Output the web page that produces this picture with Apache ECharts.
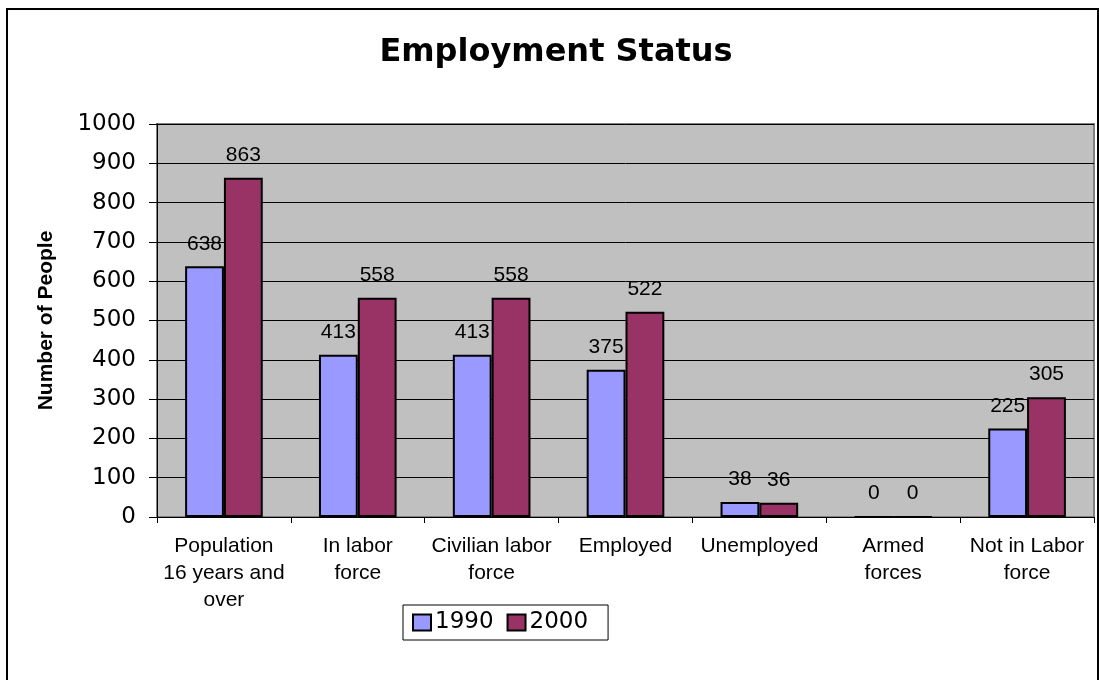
<!DOCTYPE html>
<html>
<head>
<meta charset="utf-8">
<title>Employment Status</title>
<script src="https://cdn.jsdelivr.net/npm/echarts@6/dist/echarts.min.js"></script>
<style>
  html, body { margin: 0; padding: 0; background: #ffffff; }
  #chart { width: 1099px; height: 680px; }
</style>
</head>
<body>
<div id="chart"></div>
<script>
// Category labels (line breaks as set in the axis labels)
const categories = [
  'Population\n16 years and\nover',
  'In labor\nforce',
  'Civilian labor\nforce',
  'Employed',
  'Unemployed',
  'Armed\nforces',
  'Not in Labor\nforce'
];
const seriesNames = ['1990', '2000'];
const values1990 = [638, 413, 413, 375, 38, 0, 225];
const values2000 = [863, 558, 558, 522, 36, 0, 305];
const yTicks = { min: 0, max: 1000, interval: 100 };

const chart = echarts.init(document.getElementById('chart'), null, { renderer: 'canvas' });

const labelStyle = {
  show: true,
  position: 'top',
  distance: 12,
  color: '#000',
  fontFamily: 'Liberation Sans, Arial, sans-serif',
  fontSize: 21
};

chart.setOption({
  backgroundColor: '#ffffff',
  animation: false,
  title: {
    text: 'Employment Status',
    left: 556,
    top: 37,
    padding: 0,
    textAlign: 'center',
    textStyle: {
      fontFamily: 'DejaVu Sans, Verdana, sans-serif',
      fontWeight: 'bold',
      fontSize: 32,
      color: '#000'
    }
  },
  graphic: [{
    type: 'rect',
    silent: true,
    z: -1,
    shape: { x: 7, y: 9, width: 1091, height: 720 },
    style: { fill: 'none', stroke: '#000', lineWidth: 2 }
  }],
  legend: {
    data: seriesNames,
    left: 403,
    top: 605,
    orient: 'horizontal',
    itemWidth: 18,
    itemHeight: 16,
    itemGap: 13,
    padding: [6, 20, 6, 9],
    borderColor: '#000',
    borderWidth: 1,
    textStyle: {
      fontFamily: 'DejaVu Sans, Verdana, sans-serif',
      fontSize: 23,
      color: '#000',
      padding: [0, 0, 0, -1]
    },
    icon: 'rect'
  },
  grid: {
    left: 157,
    right: 5,
    top: 124,
    bottom: 163,
    show: true,
    backgroundColor: '#C0C0C0',
    borderColor: '#808080',
    borderWidth: 2
  },
  xAxis: {
    type: 'category',
    data: categories,
    axisLine: { show: true, lineStyle: { color: '#000', width: 1 } },
    axisTick: { show: true, length: 6, lineStyle: { color: '#000' } },
    axisLabel: {
      interval: 0,
      margin: 16,
      color: '#000',
      fontFamily: 'Liberation Sans, Arial, sans-serif',
      fontSize: 21,
      lineHeight: 27,
      align: 'center'
    }
  },
  yAxis: {
    type: 'value',
    min: yTicks.min,
    max: yTicks.max,
    interval: yTicks.interval,
    name: 'Number of People',
    nameLocation: 'middle',
    nameGap: 100,
    nameTextStyle: {
      fontFamily: 'Liberation Sans, Arial, sans-serif',
      fontWeight: 'bold',
      fontSize: 21,
      color: '#000'
    },
    axisLine: { show: true, lineStyle: { color: '#000', width: 1 } },
    axisTick: { show: true, length: 8, lineStyle: { color: '#000' } },
    axisLabel: {
      margin: 21,
      color: '#000',
      fontFamily: 'DejaVu Sans, Verdana, sans-serif',
      fontSize: 23,
      formatter: (v) => String(v)
    },
    splitLine: { show: true, lineStyle: { color: '#000', width: 1 } }
  },
  series: [
    {
      name: seriesNames[0],
      type: 'bar',
      data: values1990,
      barGap: '0%',
      barCategoryGap: '42%',
      itemStyle: { color: '#9999FF', borderColor: '#000', borderWidth: 2 },
      label: labelStyle
    },
    {
      name: seriesNames[1],
      type: 'bar',
      data: values2000,
      barGap: '0%',
      barCategoryGap: '42%',
      itemStyle: { color: '#993366', borderColor: '#000', borderWidth: 2 },
      label: labelStyle
    }
  ]
});
</script>
</body>
</html>
